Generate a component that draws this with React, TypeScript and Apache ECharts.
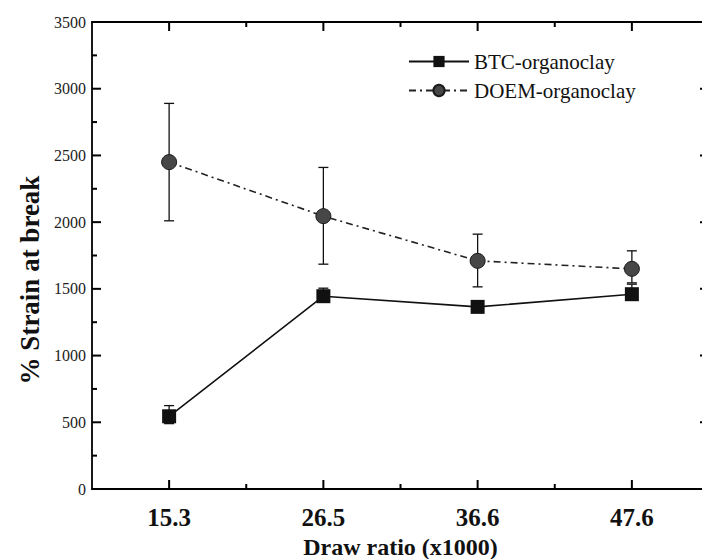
import React, { useEffect, useRef } from "react";
import * as echarts from "echarts";

const categories = ["15.3", "26.5", "36.6", "47.6"];
const btcValues = [545, 1445, 1365, 1460];
const btcErrLow = [490, 1400, 1335, 1420];
const btcErrHigh = [625, 1505, 1395, 1535];
const doemValues = [2450, 2045, 1710, 1650];
const doemErrLow = [2010, 1685, 1515, 1545];
const doemErrHigh = [2890, 2410, 1910, 1785];
const seriesNames = ["BTC-organoclay", "DOEM-organoclay"];
const yMajorTicks = [0, 500, 1000, 1500, 2000, 2500, 3000, 3500];
const yMinorTicks = [250, 750, 1250, 1750, 2250, 2750, 3250];
const xTitle = "Draw ratio (x1000)";
const yTitle = "% Strain at break";

const FONT = "'Liberation Serif', 'DejaVu Serif', serif";

// inward frame ticks on all four sides, placed through the axis scales
function frameTicks(api: any) {
  const bw = api.size([1, 0])[0];
  const first = api.coord([0, 0]);
  const last = api.coord([categories.length - 1, 0]);
  const left = first[0] - bw / 2;
  const right = last[0] + bw / 2;
  const bottom = first[1];
  const top = api.coord([0, yMajorTicks[yMajorTicks.length - 1]])[1];
  const st = { stroke: "#000", lineWidth: 2 };
  const kids: any[] = [];
  const hTick = (v: number, len: number) => {
    const y = api.coord([0, v])[1];
    kids.push({ type: "line", shape: { x1: left, y1: y, x2: left + len, y2: y }, style: st });
    kids.push({ type: "line", shape: { x1: right, y1: y, x2: right - len, y2: y }, style: st });
  };
  const vTick = (x: number, len: number) => {
    kids.push({ type: "line", shape: { x1: x, y1: bottom, x2: x, y2: bottom - len }, style: st });
    kids.push({ type: "line", shape: { x1: x, y1: top, x2: x, y2: top + len }, style: st });
  };
  yMajorTicks.forEach((v) => hTick(v, 9));
  yMinorTicks.forEach((v) => hTick(v, 5));
  categories.forEach((_, i) => {
    const cx = api.coord([i, 0])[0];
    vTick(cx, 9);
    if (i > 0) vTick(cx - bw / 2, 5);
  });
  return kids;
}

function makeErrorRender(withTicks: boolean) {
  return (params: any, api: any) => {
    const i = api.value(0);
    const lo = api.coord([i, api.value(1)]);
    const hi = api.coord([i, api.value(2)]);
    const cap = 5;
    const st = { stroke: "#111", lineWidth: 1.3 };
    const children: any[] = [
      { type: "line", shape: { x1: lo[0], y1: lo[1], x2: hi[0], y2: hi[1] }, style: st },
      { type: "line", shape: { x1: lo[0] - cap, y1: lo[1], x2: lo[0] + cap, y2: lo[1] }, style: st },
      { type: "line", shape: { x1: hi[0] - cap, y1: hi[1], x2: hi[0] + cap, y2: hi[1] }, style: st },
    ];
    if (withTicks && params.dataIndex === 0) {
      frameTicks(api).forEach((k) => children.push(k));
    }
    return { type: "group", children };
  };
}

export default function App() {
  const ref = useRef<HTMLDivElement>(null);
  useEffect(() => {
    document.body.style.margin = "0";
    const chart = echarts.init(ref.current!, undefined, { renderer: "svg" });
    const mkLine = () => ({ show: true, onZero: false, lineStyle: { color: "#000", width: 1.8 } });
    const xMain: any = {
      type: "category",
      data: categories,
      position: "bottom",
      boundaryGap: true,
      axisLine: mkLine(),
      axisTick: { show: false },
      axisLabel: {
        show: true,
        interval: 0,
        fontFamily: FONT,
        fontWeight: "bold",
        fontSize: 25,
        color: "#111",
        margin: 16,
      },
      splitLine: { show: false },
      name: xTitle,
      nameLocation: "middle",
      nameGap: 31,
      nameTextStyle: { fontFamily: FONT, fontWeight: "bold", fontSize: 24, color: "#111" },
    };
    const xTop: any = {
      type: "category",
      data: categories,
      position: "top",
      boundaryGap: true,
      axisLine: mkLine(),
      axisTick: { show: false },
      axisLabel: { show: false },
      splitLine: { show: false },
    };
    const yBase = (pos: string, labels: boolean) => ({
      type: "value",
      position: pos,
      min: 0,
      max: 3500,
      interval: 500,
      axisLine: mkLine(),
      axisTick: { show: false },
      minorTick: { show: false },
      axisLabel: labels
        ? {
            show: true,
            fontFamily: FONT,
            fontSize: 16,
            color: "#222",
            margin: 6,
            formatter: (v: number) => String(v),
          }
        : { show: false },
      splitLine: { show: false },
    });

    chart.setOption({
      animation: false,
      backgroundColor: "#fff",
      grid: { left: 92, top: 22, width: 617, height: 467, outerBoundsMode: "none" },
      xAxis: [xMain, xTop],
      yAxis: [yBase("left", true), yBase("right", false)],
      legend: {
        data: seriesNames,
        orient: "vertical",
        left: 408,
        top: 51,
        itemWidth: 60,
        itemHeight: 14,
        itemGap: 8,
        padding: 0,
        textStyle: { fontFamily: FONT, fontSize: 21, color: "#111" },
      },
      graphic: [
        {
          type: "text",
          x: 30,
          y: 280,
          rotation: Math.PI / 2,
          style: {
            text: yTitle,
            fontFamily: FONT,
            fontWeight: "bold",
            fontSize: 27,
            fill: "#111",
            textAlign: "center",
            textVerticalAlign: "middle",
          },
        },
      ],
      series: [
        {
          type: "custom",
          name: "btc-err",
          renderItem: makeErrorRender(true),
          data: categories.map((_, i) => [i, btcErrLow[i], btcErrHigh[i]]),
          encode: { x: 0, y: [1, 2] },
          z: 4,
          silent: true,
        },
        {
          type: "custom",
          name: "doem-err",
          renderItem: makeErrorRender(false),
          data: categories.map((_, i) => [i, doemErrLow[i], doemErrHigh[i]]),
          encode: { x: 0, y: [1, 2] },
          z: 1,
          silent: true,
        },
        {
          type: "line",
          name: seriesNames[0],
          data: btcValues,
          symbol: "rect",
          symbolSize: 14,
          itemStyle: { color: "#111" },
          lineStyle: { color: "#111", width: 1.6, type: "solid" },
          z: 3,
        },
        {
          type: "line",
          name: seriesNames[1],
          data: doemValues,
          symbol: "circle",
          symbolSize: 15,
          itemStyle: { color: "#474747", borderColor: "#1a1a1a", borderWidth: 1 },
          lineStyle: { color: "#222", width: 1.6, type: [7, 4, 2, 4] },
          z: 3,
        },
      ],
    });
    return () => chart.dispose();
  }, []);
  return <div ref={ref} style={{ width: 702, height: 559 }} />;
}
